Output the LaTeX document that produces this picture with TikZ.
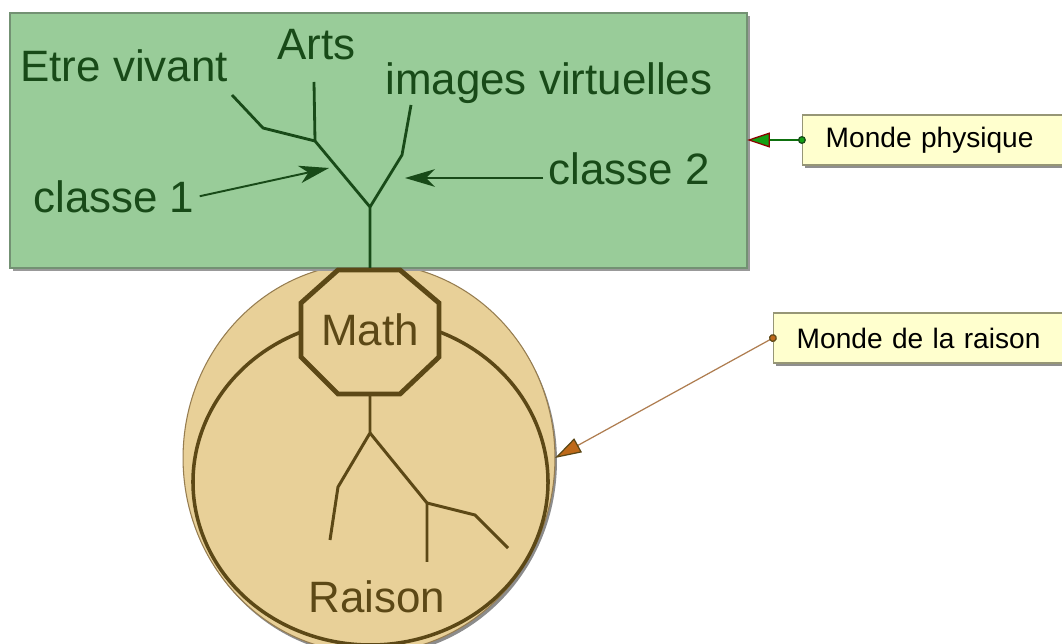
\documentclass[tikz,border=0pt]{standalone}
\usepackage{fontspec}
\setmainfont{Liberation Sans}
\usetikzlibrary{arrows.meta,shadows}
\usepackage{xcolor}
\definecolor{leafgreen}{RGB}{153,204,153}
\definecolor{leafedge}{RGB}{115,145,115}
\definecolor{leafdark}{RGB}{24,74,24}
\definecolor{sand}{RGB}{232,208,152}
\definecolor{sandedge}{RGB}{150,125,80}
\definecolor{barkbrown}{RGB}{92,72,22}
\definecolor{notefill}{RGB}{255,255,206}
\definecolor{noteedge}{RGB}{150,150,118}
\definecolor{pingreen}{RGB}{20,160,20}
\definecolor{pinbrown}{RGB}{190,105,25}
\definecolor{pinbrownline}{RGB}{175,125,80}
\tikzset{
    panel/.style = {
        fill = leafgreen,
        draw = leafedge,
        line width = 0.8pt,
    },
    disc/.style = {
        fill = sand,
        draw = sandedge,
        line width = 0.6pt,
    },
    greenlabel/.style = {
        text = leafdark,
        font = \fontsize{25}{30}\selectfont,
        inner sep = 0pt,
        anchor = base west,
    },
    brownlabel/.style = {
        text = barkbrown,
        font = \fontsize{25}{30}\selectfont,
        inner sep = 0pt,
    },
    branch/.style = {
        draw = leafdark,
        line width = 1.6pt,
    },
    root/.style = {
        draw = barkbrown,
        line width = 1.7pt,
    },
    rim/.style = {
        draw = barkbrown,
        line width = 2pt,
    },
    octo/.style = {
        fill = sand,
        draw = barkbrown,
        line width = 2.8pt,
    },
    pointer/.style = {
        draw = leafdark,
        line width = 1.1pt,
        -{Stealth[length=17pt, width=10pt, inset=5pt]},
    },
    note/.style = {
        fill = notefill,
        draw = noteedge,
        line width = 0.8pt,
        anchor = west,
        font = \fontsize{16}{19}\selectfont,
        inner xsep = 0.46cm,
        inner ysep = 0pt,
        minimum height = 1cm,
        text width = 6cm,
        align = left,
        drop shadow = {shadow xshift=1.5pt, shadow yshift=-1.5pt, fill=black!55, opacity=0.8},
    },
    pinline/.style = {
        line width = 0.7pt,
        shorten <= -2.2pt,
    },
}

\begin{document}
\begin{tikzpicture}[x=0.02cm, y=-0.02cm]
    \useasboundingbox[fill=white] (0,0) rectangle (1062,644);
    \clip (0,0) rectangle (1062,644);

    % world of reason
    \fill[black!45] (371,461) ellipse[x radius=3.72cm, y radius=3.9cm];
    \draw[disc] (369,458) ellipse[x radius=3.72cm, y radius=3.9cm];
    \draw[rim] (370.5,482) ++(111:3.55cm and 3.26cm)
        arc[start angle=111, end angle=429, x radius=3.55cm, y radius=3.26cm];

    % physical world
    \fill[black!40] (13,16) rectangle (750,271);
    \draw[panel] (10,13) rectangle (747,268);

    \draw[octo] (338,270) -- (400,270) -- (439,303) -- (439,357) -- (400,394)
        -- (338,394) -- (301,357) -- (301,303) -- cycle;
    \node[brownlabel, minimum width=2.78cm, minimum height=2.5cm] (math) at (370,329.5) {Math};
    \node[brownlabel, anchor=base west] (raison) at (308,613) {Raison};

    \coordinate (rFork) at (370,433);
    \coordinate (rLeftK) at (338,487);
    \coordinate (rLeftEnd) at (330,540);
    \coordinate (rRightK) at (427,503);
    \coordinate (rMidEnd) at (427,562);
    \coordinate (rRightK2) at (475,515);
    \coordinate (rRightEnd) at (508,548);
    \draw[root] (370,394) -- (rFork) -- (rLeftK) -- (rLeftEnd);
    \draw[root] (rFork) -- (rRightK) -- (rMidEnd);
    \draw[root] (rRightK) -- (rRightK2) -- (rRightEnd);

    % tree of classes
    \coordinate (gFork) at (370,207);
    \coordinate (gLeftK) at (315,141);
    \coordinate (gEtreK) at (263,128);
    \coordinate (gEtreEnd) at (232,95);
    \coordinate (gArtsEnd) at (314,82);
    \coordinate (gRightK) at (402,155);
    \coordinate (gImgEnd) at (411,105);
    \draw[branch] (370,268) -- (gFork) -- (gLeftK) -- (gEtreK) -- (gEtreEnd);
    \draw[branch] (gLeftK) -- (gArtsEnd);
    \draw[branch] (gFork) -- (gRightK) -- (gImgEnd);

    \node[greenlabel] (etre) at (20,82) {Etre vivant};
    \node[greenlabel] (arts) at (277,60) {Arts};
    \node[greenlabel] (images) at (385,95) {images virtuelles};
    \node[greenlabel] (classeA) at (33,213) {classe 1};
    \node[greenlabel] (classeB) at (548,185) {classe 2};

    \coordinate (tipA) at (329,168);
    \coordinate (tipB) at (405,178);
    \draw[pointer, shorten <=0.1cm] (classeA.east) -- (tipA);
    \draw[pointer, shorten <=0.1cm] (classeB.west |- tipB) -- (tipB);

    % notes
    \node[note] (physique) at (802,140) {Monde physique};
    \node[note] (raisonNote) at (773,338) {Monde de la raison};
    \coordinate (pinG) at (747,140);
    \coordinate (pinB) at (555,458);
    \draw[pinline, draw=pingreen!70!black,
        {Circle[length=4.5pt, fill=pingreen, color=leafdark]}-{Triangle[length=13pt, width=8.5pt, fill=pingreen, color=red!55!black]}]
        (physique.west) -- (pinG);
    \draw[pinline, draw=pinbrownline,
        {Circle[length=4.5pt, fill=pinbrown, color=barkbrown]}-{Triangle[length=15pt, width=9pt, fill=pinbrown, color=barkbrown]}]
        (raisonNote.west) -- (pinB);
\end{tikzpicture}
\end{document}
